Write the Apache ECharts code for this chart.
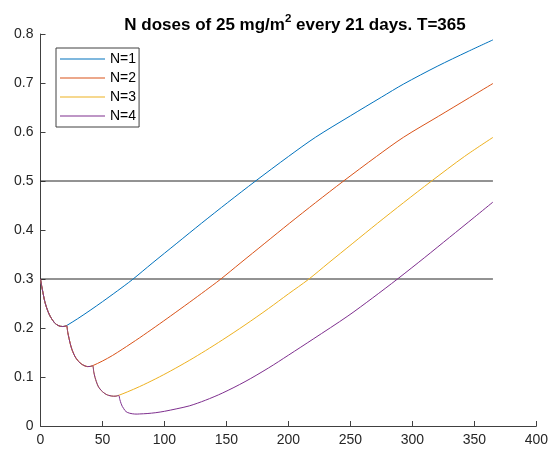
<!DOCTYPE html>
<html>
<head>
<meta charset="utf-8">
<script src="https://cdn.jsdelivr.net/npm/echarts@6/dist/echarts.min.js"></script>
<style>
html,body{margin:0;padding:0;background:#fff;}
#chart{width:551px;height:452px;}
</style>
</head>
<body>
<div id="chart"></div>
<script>
// ---- data ----
const titleText = 'N doses of 25 mg/m{sup|2} every 21 days. T=365';
const seriesNames = ['N=1', 'N=2', 'N=3', 'N=4'];
const xTicks = [0, 50, 100, 150, 200, 250, 300, 350, 400];
const yTicks = [0, 0.1, 0.2, 0.3, 0.4, 0.5, 0.6, 0.7, 0.8];
const thresholdLevels = [0.3, 0.5];
const thresholdDays = [0, 365];

// shared decay after dose 1 (days 0-21)
const phase1Days = [0, 1, 2, 3, 4, 5, 6, 7, 8, 10, 12, 14, 16, 18, 20, 21];
const phase1Vals = [0.300, 0.285, 0.272, 0.259, 0.249, 0.241, 0.234, 0.228, 0.223, 0.215, 0.209, 0.2055, 0.2035, 0.203, 0.2038, 0.2048];
// decay after dose 2 (days 22-42)
const phase2Days = [22, 23, 24, 25, 26, 28, 30, 32, 34, 36, 38, 40, 42];
const phase2Vals = [0.191, 0.179, 0.168, 0.159, 0.152, 0.141, 0.134, 0.1285, 0.125, 0.1225, 0.1213, 0.1215, 0.123];
// decay after dose 3 (days 43-63)
const phase3Days = [43, 44, 45, 46, 47, 49, 51, 53, 55, 57, 59, 61, 63];
const phase3Vals = [0.110, 0.099, 0.091, 0.084, 0.079, 0.0725, 0.068, 0.0645, 0.0625, 0.0613, 0.0608, 0.061, 0.0625];
// decay after dose 4 (days 64-80)
const phase4Days = [64, 65, 66, 67, 68, 69, 70, 72, 74, 76, 78, 80];
const phase4Vals = [0.054, 0.046, 0.040, 0.036, 0.032, 0.0295, 0.0278, 0.026, 0.025, 0.0244, 0.0243, 0.0246];

// regrowth after the last dose
const n1GrowDays = [30, 40, 50, 62, 74, 90, 110, 130, 151, 173, 200, 222, 250, 275, 293, 320, 345, 365];
const n1GrowVals = [0.219, 0.236, 0.2537, 0.2757, 0.2985, 0.332, 0.373, 0.414, 0.456, 0.499, 0.550, 0.5895, 0.633, 0.671, 0.698, 0.734, 0.7645, 0.788];
const n2GrowDays = [50, 58, 66, 80, 93, 105, 120, 133, 145, 161, 181, 201, 222, 244, 271, 293, 321, 346, 365];
const n2GrowVals = [0.1326, 0.1438, 0.1566, 0.1801, 0.203, 0.2246, 0.252, 0.2762, 0.299, 0.332, 0.373, 0.414, 0.456, 0.499, 0.550, 0.5895, 0.632, 0.670, 0.699];
const n3GrowDays = [70, 80, 93, 105, 120, 133, 147, 165, 184, 200, 216, 232, 252, 272, 293, 315, 342, 365];
const n3GrowVals = [0.0695, 0.0805, 0.0964, 0.1124, 0.1338, 0.1536, 0.176, 0.2062, 0.2398, 0.2696, 0.2988, 0.332, 0.373, 0.414, 0.456, 0.499, 0.550, 0.589];
const n4GrowDays = [86, 93, 100, 110, 120, 133, 147, 165, 184, 200, 220, 248, 268, 288, 310, 330, 350, 365];
const n4GrowVals = [0.0254, 0.0272, 0.030, 0.0352, 0.041, 0.0525, 0.0675, 0.0905, 0.1185, 0.1445, 0.1775, 0.2245, 0.2615, 0.300, 0.344, 0.385, 0.426, 0.457];

const colors = ['#0072BD', '#D95319', '#EDB120', '#7E2F8E'];

function zip(xs, ys) { return xs.map((x, i) => [x, ys[i]]); }
const p1 = zip(phase1Days, phase1Vals);
const p2 = zip(phase2Days, phase2Vals);
const p3 = zip(phase3Days, phase3Vals);
const p4 = zip(phase4Days, phase4Vals);
const seriesData = [
  p1.concat(zip(n1GrowDays, n1GrowVals)),
  p1.concat(p2, zip(n2GrowDays, n2GrowVals)),
  p1.concat(p2, p3, zip(n3GrowDays, n3GrowVals)),
  p1.concat(p2, p3, p4, zip(n4GrowDays, n4GrowVals))
];

const axisColor = '#404040';
const font = 'Liberation Sans, Arial, Helvetica, sans-serif';

const series = [];
thresholdLevels.forEach(function (lv) {
  series.push({
    type: 'line', data: thresholdDays.map(d => [d, lv]), symbol: 'none',
    lineStyle: { color: '#262626', width: 1 }, silent: true, z: 1
  });
});
seriesNames.forEach(function (name, i) {
  series.push({
    name: name, type: 'line', data: seriesData[i], symbol: 'none', showSymbol: false,
    smooth: 0.3,
    lineStyle: { color: colors[i], width: 1 }, itemStyle: { color: colors[i] }, z: 2 + i
  });
});

const chart = echarts.init(document.getElementById('chart'), null, { renderer: 'canvas' });
chart.setOption({
  backgroundColor: '#fff',
  animation: false,
  title: {
    text: titleText, left: 290, top: 8, textAlign: 'center',
    textStyle: {
      fontFamily: font, fontSize: 17, fontWeight: 'bold', color: '#000', lineHeight: 24,
      rich: { sup: { fontFamily: font, fontSize: 11.5, fontWeight: 'bold', color: '#000', verticalAlign: 'top', lineHeight: 13 } }
    }
  },
  legend: {
    data: seriesNames.map(n => ({ name: n, icon: 'rect' })),
    orient: 'vertical', left: 56, top: 48,
    itemWidth: 45, itemHeight: 1, itemGap: 5,
    padding: [4, 3, 4, 4],
    backgroundColor: '#fff', borderColor: '#404040', borderWidth: 1,
    textStyle: { fontFamily: font, fontSize: 14, color: '#000', lineHeight: 14 }
  },
  grid: { left: 40.5, right: 12, top: 34, bottom: 26, containLabel: false },
  xAxis: {
    type: 'value', min: xTicks[0], max: xTicks[xTicks.length - 1], interval: 50,
    axisLine: { show: true, lineStyle: { color: axisColor, width: 1 } },
    axisTick: { show: true, inside: true, length: 5, lineStyle: { color: axisColor } },
    axisLabel: { fontFamily: font, fontSize: 14, color: '#262626', margin: 7 },
    splitLine: { show: false }
  },
  yAxis: {
    type: 'value', min: yTicks[0], max: yTicks[yTicks.length - 1], interval: 0.1,
    axisLine: { show: true, lineStyle: { color: axisColor, width: 1 } },
    axisTick: { show: true, inside: true, length: 5, lineStyle: { color: axisColor } },
    axisLabel: { fontFamily: font, fontSize: 14, color: '#262626', margin: 7 },
    splitLine: { show: false }
  },
  series: series
});
</script>
</body>
</html>
